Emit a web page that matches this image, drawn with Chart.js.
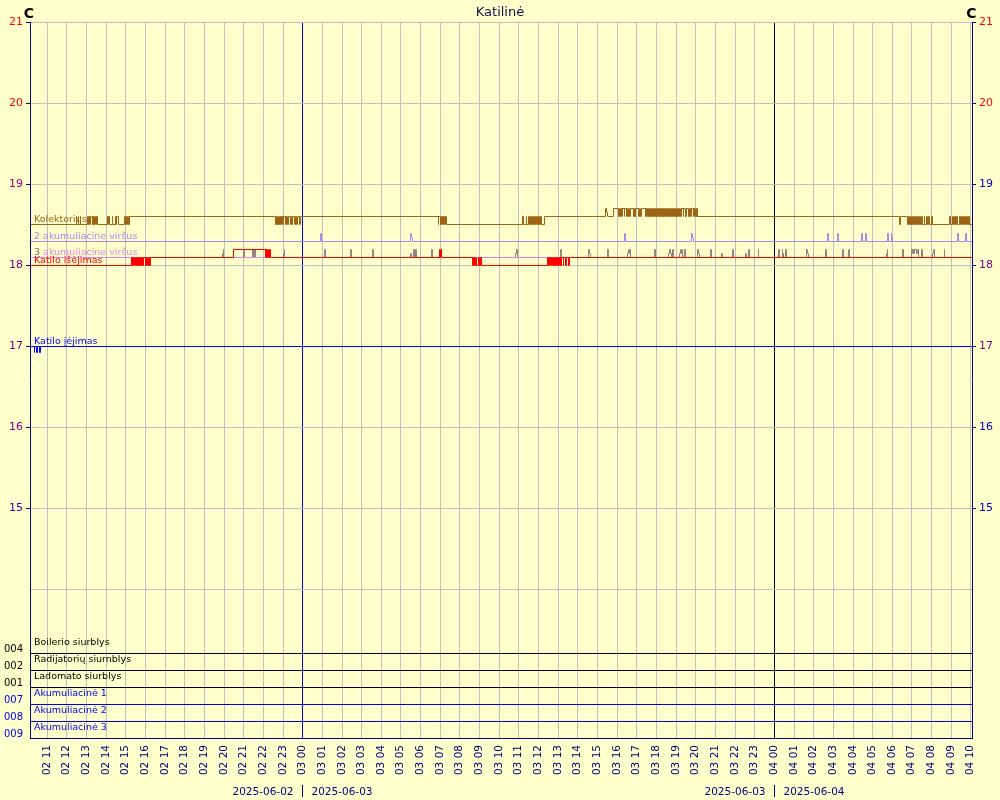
<!DOCTYPE html>
<html><head><meta charset="utf-8">
<script src="https://cdn.jsdelivr.net/npm/chart.js@4"></script>
<style>html,body{margin:0;padding:0;background:#ffffcc;}canvas{display:block;}</style>
</head><body>
<canvas id="c" width="1000" height="800"></canvas>
<script>
// ---------- DATA ----------
const chartTitle = 'Katilinė';
const unitLabel = 'C';
const xMin = 10.15, xMax = 58.08;            // hours since 2025-06-02 00:00
const xTickHours = [11,12,13,14,15,16,17,18,19,20,21,22,23,24,25,26,27,28,29,30,31,32,33,34,35,36,37,38,39,40,41,42,43,44,45,46,47,48,49,50,51,52,53,54,55,56,57,58];
const xTickLabels = ['02 11','02 12','02 13','02 14','02 15','02 16','02 17','02 18','02 19','02 20','02 21','02 22','02 23',
  '03 00','03 01','03 02','03 03','03 04','03 05','03 06','03 07','03 08','03 09','03 10','03 11','03 12','03 13','03 14','03 15','03 16','03 17','03 18','03 19','03 20','03 21','03 22','03 23',
  '04 00','04 01','04 02','04 03','04 04','04 05','04 06','04 07','04 08','04 09','04 10'];
const dayBreaks = [24, 48];
const dayBreakLabels = [['2025-06-02','2025-06-03'],['2025-06-03','2025-06-04']];

const yMin = 12.16, yMax = 21;
const yTicks = [21,20,19,18,17,16,15,14];
const yTickLabels = ['21','20','19','18','17','16','15',''];
const leftTickColors  = ['#ff0000','#ff0000','#a0007a','#800080','#800080','#800080','#3000b0','#000080'];
const rightTickColors = ['#ff0000','#ff0000','#0000c0','#800080','#800080','#0000c0','#0000c0','#000080'];

// pump / channel rows (all off)
const rowCodes  = ['004','002','001','007','008','009'];
const rowNames  = ['Boilerio siurblys','Radijatorių siurnblys','Ladomato siurblys','Akumuliacinė 1','Akumuliacinė 2','Akumuliacinė 3'];
const rowLevels = [13.21, 13.0, 12.79, 12.58, 12.37, 12.16];
const rowStates = [0,0,0,0,0,0];

// temperature series: [hour, °C]
const kolektorius = [
 [10.15,18.5],
 [12.47,18.6],[12.50,18.5],[12.57,18.6],[12.60,18.5],[12.67,18.6],[12.70,18.5],
 [13.03,18.6],[13.08,18.5],[13.12,18.6],[13.17,18.5],[13.21,18.6],[13.30,18.5],[13.34,18.6],[13.38,18.5],[13.42,18.6],[13.47,18.5],[13.50,18.6],[13.55,18.5],
 [14.05,18.6],[14.10,18.5],[14.14,18.6],[14.18,18.5],[14.30,18.6],[14.34,18.5],[14.45,18.6],[14.49,18.5],[14.53,18.6],[14.61,18.5],
 [14.92,18.6],[14.96,18.5],[15.05,18.6],[15.09,18.5],[15.13,18.6],[15.16,18.5],[15.20,18.6],
 [22.60,18.5],[22.64,18.6],[22.67,18.5],[22.71,18.6],[22.74,18.5],[22.78,18.6],[22.82,18.5],[22.86,18.6],[22.90,18.5],[22.94,18.6],[22.98,18.5],[23.02,18.6],
 [23.10,18.5],[23.14,18.6],[23.18,18.5],[23.22,18.6],[23.26,18.5],[23.30,18.6],
 [23.38,18.5],[23.42,18.6],[23.46,18.5],[23.50,18.6],
 [23.58,18.5],[23.62,18.6],[23.66,18.5],[23.72,18.6],
 [23.85,18.5],[23.90,18.6],
 [30.90,18.5],[30.93,18.6],[30.99,18.5],[31.02,18.6],[31.06,18.5],[31.10,18.6],[31.14,18.5],[31.18,18.6],[31.22,18.5],[31.26,18.6],[31.32,18.5],
 [35.18,18.6],[35.21,18.5],[35.37,18.6],[35.40,18.5],[35.48,18.6],[35.52,18.5],[35.56,18.6],[35.60,18.5],[35.64,18.6],[35.68,18.5],[35.72,18.6],[35.76,18.5],
 [35.80,18.6],[35.84,18.5],[35.88,18.6],[35.96,18.5],[36.00,18.6],[36.04,18.5],[36.12,18.6],[36.16,18.5],[36.28,18.6],
 [39.42,18.7],[39.45,18.65],[39.50,18.6],
 [39.80,18.7],[40.09,18.6],[40.12,18.7],[40.16,18.6],[40.20,18.7],[40.25,18.6],[40.28,18.7],[40.35,18.6],[40.38,18.7],[40.45,18.6],[40.48,18.7],[40.55,18.6],
 [40.58,18.7],[40.64,18.6],[40.68,18.7],[40.82,18.6],[40.86,18.7],[40.90,18.6],[40.94,18.7],[41.08,18.6],[41.12,18.7],[41.18,18.6],[41.22,18.7],
 [41.42,18.6],[41.46,18.7],[41.50,18.6],[41.54,18.7],[41.58,18.6],[41.62,18.7],[41.66,18.6],[41.70,18.7],[41.74,18.6],[41.78,18.7],[41.82,18.6],[41.86,18.7],
 [41.90,18.6],[41.94,18.7],[41.98,18.6],[42.02,18.7],[42.06,18.6],[42.10,18.7],[42.14,18.6],[42.18,18.7],[42.22,18.6],[42.26,18.7],[42.30,18.6],[42.34,18.7],
 [42.38,18.6],[42.42,18.7],[42.46,18.6],[42.50,18.7],[42.54,18.6],[42.58,18.7],[42.62,18.6],[42.66,18.7],[42.70,18.6],[42.74,18.7],[42.78,18.6],[42.82,18.7],
 [42.86,18.6],[42.90,18.7],[42.94,18.6],[42.98,18.7],[43.02,18.6],[43.06,18.7],
 [43.12,18.6],[43.16,18.7],[43.24,18.6],[43.28,18.7],[43.36,18.6],[43.40,18.7],[43.50,18.6],[43.54,18.7],[43.62,18.6],[43.66,18.7],[43.74,18.6],[43.78,18.7],
 [43.86,18.6],[43.90,18.7],[43.96,18.6],[44.00,18.7],[44.06,18.6],[44.08,18.7],[44.11,18.6],
 [54.38,18.5],[54.42,18.6],
 [54.79,18.5],[54.83,18.6],[54.87,18.5],[54.91,18.6],[54.95,18.5],[54.99,18.6],[55.03,18.5],[55.07,18.6],[55.11,18.5],[55.15,18.6],[55.19,18.5],[55.23,18.6],
 [55.27,18.5],[55.31,18.6],[55.35,18.5],[55.39,18.6],[55.45,18.5],[55.50,18.6],[55.54,18.5],[55.62,18.6],[55.66,18.5],[55.74,18.6],[55.78,18.5],[55.86,18.6],
 [55.90,18.5],[55.98,18.6],[56.02,18.5],
 [56.93,18.6],[56.97,18.5],[57.05,18.6],[57.09,18.5],[57.17,18.6],[57.21,18.5],[57.29,18.6],[57.33,18.5],[57.41,18.6],[57.45,18.5],[57.51,18.6],[57.55,18.5],
 [57.61,18.6],[57.65,18.5],[57.71,18.6],[57.75,18.5],[57.82,18.6],[57.86,18.5],[57.92,18.6],[57.95,18.5],
 [58.08,18.5]
];
const akum2Virsus = [
 [10.15,18.3],
 [24.93,18.4],[24.96,18.3],
 [29.51,18.4],[29.54,18.35],[29.57,18.3],
 [40.38,18.4],[40.41,18.3],
 [43.80,18.4],[43.83,18.35],[43.87,18.3],
 [50.68,18.35],[50.71,18.4],[50.74,18.3],
 [51.20,18.35],[51.23,18.4],[51.26,18.3],
 [52.43,18.4],[52.46,18.3],
 [52.66,18.4],[52.69,18.3],
 [53.75,18.35],[53.78,18.4],[53.81,18.3],[53.95,18.4],[53.98,18.35],[54.01,18.3],
 [57.31,18.35],[57.34,18.4],[57.37,18.3],
 [57.74,18.4],[57.77,18.3],
 [58.08,18.3]
];
const akum3Virsus = [[10.15,18.1],[58.08,18.1]];
const akum3Pulses = [
 [10.15,18.1],
 [19.93,18.15],[19.96,18.2],[19.99,18.1],
 [21.01,18.2],[21.04,18.1],
 [21.47,18.2],[21.50,18.1],
 [21.57,18.2],[21.60,18.1],
 [23.03,18.15],[23.06,18.2],[23.09,18.1],
 [25.13,18.2],[25.16,18.1],
 [26.45,18.2],[26.48,18.1],
 [27.57,18.2],[27.60,18.1],
 [29.50,18.15],[29.53,18.1],[29.66,18.2],[29.69,18.1],[29.76,18.2],[29.79,18.1],
 [30.57,18.2],[30.60,18.1],
 [34.85,18.15],[34.88,18.2],[34.91,18.1],
 [37.13,18.2],[37.16,18.15],[37.19,18.1],
 [38.56,18.2],[38.59,18.15],[38.62,18.1],
 [39.52,18.2],[39.55,18.15],[39.58,18.1],
 [40.54,18.15],[40.58,18.2],[40.62,18.15],[40.66,18.2],[40.70,18.1],
 [41.92,18.2],[41.95,18.1],
 [42.63,18.15],[42.67,18.2],[42.71,18.15],[42.75,18.1],
 [42.84,18.2],[42.87,18.1],
 [43.19,18.15],[43.22,18.2],[43.26,18.15],[43.30,18.2],[43.33,18.1],
 [43.45,18.2],[43.48,18.1],
 [44.11,18.2],[44.14,18.15],[44.17,18.1],
 [44.77,18.2],[44.80,18.1],
 [45.33,18.15],[45.36,18.1],
 [45.89,18.2],[45.92,18.1],
 [46.55,18.15],[46.58,18.1],[46.70,18.2],[46.73,18.1],
 [47.17,18.2],[47.20,18.1],
 [48.22,18.2],[48.25,18.15],[48.28,18.1],
 [48.39,18.2],[48.42,18.15],[48.45,18.1],
 [48.59,18.2],[48.62,18.1],
 [49.65,18.2],[49.68,18.15],[49.72,18.1],
 [50.61,18.2],[50.67,18.1],
 [51.48,18.2],[51.51,18.1],
 [51.78,18.2],[51.81,18.15],[51.84,18.1],
 [53.71,18.15],[53.74,18.2],[53.78,18.1],
 [54.54,18.2],[54.57,18.1],
 [54.99,18.2],[55.03,18.15],[55.07,18.2],[55.11,18.15],[55.15,18.2],[55.22,18.15],[55.26,18.2],[55.31,18.1],
 [55.51,18.2],[55.54,18.1],
 [56.07,18.15],[56.10,18.2],[56.13,18.1],
 [56.63,18.2],[56.66,18.1],
 [58.08,18.1]
];
const katiloIsejimas = [
 [10.15,18.0],
 [15.28,18.1],[15.32,18.0],[15.36,18.1],[15.40,18.0],[15.44,18.1],[15.48,18.0],[15.52,18.1],[15.56,18.0],[15.60,18.1],[15.64,18.0],[15.68,18.1],[15.72,18.0],
 [15.76,18.1],[15.80,18.0],[15.84,18.1],[15.88,18.0],[15.92,18.1],[16.02,18.0],[16.05,18.1],[16.12,18.0],[16.16,18.1],[16.20,18.0],[16.24,18.1],
 [20.46,18.2],
 [22.09,18.1],[22.12,18.2],[22.15,18.1],[22.18,18.2],[22.21,18.1],[22.24,18.2],[22.27,18.1],[22.33,18.2],[22.36,18.1],
 [30.94,18.2],[30.97,18.1],[31.02,18.2],[31.07,18.1],
 [32.62,18.0],[32.66,18.1],[32.70,18.0],[32.74,18.1],[32.78,18.0],[32.82,18.1],[32.86,18.0],[32.96,18.1],[33.00,18.0],[33.04,18.1],[33.08,18.0],
 [36.48,18.1],[36.51,18.0],[36.55,18.1],[36.59,18.0],[36.63,18.1],[36.67,18.0],[36.71,18.1],[36.75,18.0],[36.79,18.1],[36.83,18.0],[36.87,18.1],[36.92,18.0],
 [36.98,18.1],[37.03,18.0],[37.07,18.1],[37.13,18.0],[37.16,18.1],[37.26,18.0],[37.29,18.1],[37.36,18.0],[37.42,18.1],[37.52,18.0],[37.55,18.1],
 [58.08,18.1]
];
const katiloIejimas = [
 [10.15,17.0],[10.33,16.93],[10.37,17.0],[10.48,16.93],[10.52,17.0],[10.63,16.93],[10.67,17.0],[58.08,17.0]
];

// ---------- STYLE ----------
const FONT = '"DejaVu Sans", Verdana, sans-serif';
const NAVY = '#000080';
const GRID = '#c0c0c0';
const seriesDefs = [
  {label:'Katilo išėjimas',      pts:katiloIsejimas, color:'#ff0000', order:1, showLabel:true},
  {label:'3 akumuliacine viršus', pts:akum3Virsus,   color:'#e088e0', order:2, showLabel:true},
  {label:'',                      pts:akum3Pulses,   color:'#968282', order:3, showLabel:false},
  {label:'2 akumuliacine viršus', pts:akum2Virsus,   color:'#a888f0', order:4, showLabel:true},
  {label:'Kolektorius',           pts:kolektorius,   color:'#9c6414', order:5, showLabel:true},
  {label:'Katilo įėjimas',        pts:katiloIejimas, color:'#0000ff', order:6, showLabel:true}
];
const rowColors = ['#000000','#000000','#000000','#0000ee','#0000ee','#0000ee'];
const rowLabelLift = 0.045;

// linear scale that snaps to pixel centres (crisp 1px lines like the original renderer)
class CrispLinear extends Chart.LinearScale {
  getPixelForValue(value) { return Math.round(super.getPixelForValue(value)) + 0.5; }
}
CrispLinear.id = 'crispLinear';
CrispLinear.defaults = Chart.LinearScale.defaults;
Chart.register(CrispLinear);

const datasets = seriesDefs.map(s => ({
  label: s.label,
  data: s.pts.map(p => ({x:p[0], y:p[1]})),
  borderColor: s.color, borderWidth: 1, pointRadius: 0, stepped: true,
  fill: false, order: s.order
}));
rowLevels.forEach((lv, i) => {
  datasets.push({
    label: rowNames[i],
    data: [{x:xMin, y:lv + rowStates[i]*0.15}, {x:xMax, y:lv + rowStates[i]*0.15}],
    borderColor: rowColors[i], borderWidth: 1, pointRadius: 0, stepped: true, fill:false, order: 10
  });
});

const leftTickVals = yTicks.concat(rowLevels.map(v => v + rowLabelLift));
const leftTickText = yTickLabels.concat(rowCodes);
const leftColors = leftTickColors.concat(rowColors);

const overlay = {
  id: 'overlay',
  afterDraw(chart) {
    const {ctx, chartArea, scales:{x, y}} = chart;
    ctx.save();
    ctx.textBaseline = 'alphabetic';
    ctx.font = '13px ' + FONT; ctx.fillStyle = '#101050'; ctx.textAlign = 'center';
    ctx.fillText(chartTitle, chart.width/2, 16);
    ctx.font = 'bold 14px ' + FONT; ctx.fillStyle = '#000000';
    ctx.fillText(unitLabel, chartArea.left - 1, 18);
    ctx.fillText(unitLabel, chartArea.right - 0.5, 18);
    ctx.textAlign = 'left';
    ctx.font = '9.5px ' + FONT;
    seriesDefs.forEach(s => {
      if (!s.showLabel) return;
      const py = y.getPixelForValue(s.pts[0][1]) - 3;
      ctx.fillStyle = s.color;
      ctx.fillText(s.label, chartArea.left + 4, py);
    });
    ctx.fillStyle = '#968282';
    ctx.fillText('3', chartArea.left + 4, y.getPixelForValue(akum3Pulses[0][1]) - 3);
    rowNames.forEach((n, i) => {
      ctx.fillStyle = rowColors[i];
      ctx.fillText(n, chartArea.left + 4, y.getPixelForValue(rowLevels[i]) - 8.5);
    });
    ctx.font = '10.5px ' + FONT; ctx.fillStyle = NAVY;
    dayBreaks.forEach((h, i) => {
      const px = x.getPixelForValue(h);
      ctx.textAlign = 'right'; ctx.fillText(dayBreakLabels[i][0], px - 9, 795);
      ctx.textAlign = 'left';  ctx.fillText(dayBreakLabels[i][1], px + 9, 795);
      ctx.strokeStyle = NAVY; ctx.lineWidth = 1;
      ctx.beginPath(); ctx.moveTo(px, 785); ctx.lineTo(px, 797); ctx.stroke();
    });
    ctx.restore();
  }
};

new Chart(document.getElementById('c'), {
  type: 'line',
  data: { datasets },
  options: {
    responsive: false, animation: false, events: [],
    layout: { padding: { top: 22, left: 0, right: 0, bottom: 0 } },
    plugins: { legend: {display:false}, title: {display:false}, tooltip: {enabled:false} },
    scales: {
      x: {
        type: 'crispLinear', min: xMin, max: xMax, position: 'bottom',
        afterBuildTicks: s => { s.ticks = xTickHours.map(v => ({value: v})); },
        afterFit: s => { s.height = 62; },
        ticks: {
          autoSkip: false, minRotation: 90, maxRotation: 90, padding: 7,
          color: NAVY, font: {family: FONT, size: 10.5},
          callback: (v, i) => xTickLabels[i]
        },
        grid: {
          drawTicks: false,
          color: c => (c.tick && c.tick.value === dayBreaks[0]) ? '#0000ff' : (c.tick && c.tick.value === dayBreaks[1]) ? '#000000' : GRID
        },
        border: { display: true, color: NAVY }
      },
      y: {
        type: 'crispLinear', min: yMin, max: yMax, position: 'left',
        afterBuildTicks: s => { s.ticks = leftTickVals.map(v => ({value: v})); },
        afterFit: s => { s.width = 30; },
        ticks: {
          autoSkip: false, padding: 3,
          color: c => leftColors[c.index],
          font: c => ({family: FONT, size: c.index < yTicks.length ? 11 : 10}),
          callback: (v, i) => leftTickText[i]
        },
        grid: {
          tickLength: 4,
          color: c => c.index < yTicks.length ? GRID : 'rgba(0,0,0,0)',
          tickColor: c => c.index < yTicks.length - 1 ? NAVY : 'rgba(0,0,0,0)'
        },
        border: { display: true, color: NAVY }
      },
      y2: {
        type: 'crispLinear', min: yMin, max: yMax, position: 'right',
        afterBuildTicks: s => { s.ticks = yTicks.map(v => ({value: v})); },
        afterFit: s => { s.width = 28; },
        ticks: {
          autoSkip: false, padding: 3,
          color: c => rightTickColors[c.index],
          font: {family: FONT, size: 11},
          callback: (v, i) => yTickLabels[i]
        },
        grid: {
          drawOnChartArea: false, tickLength: 4,
          tickColor: c => c.index < yTicks.length - 1 ? NAVY : 'rgba(0,0,0,0)'
        },
        border: { display: true, color: NAVY }
      }
    }
  },
  plugins: [overlay]
});
</script>
</body></html>
